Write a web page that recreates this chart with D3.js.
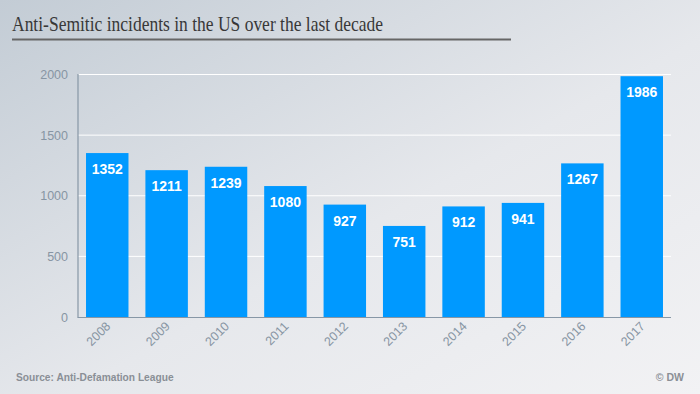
<!DOCTYPE html>
<html><head><meta charset="utf-8">
<script src="https://cdn.jsdelivr.net/npm/d3@7"></script>
<style>body{margin:0;overflow:hidden}svg{display:block}</style>
</head><body>
<script>
const years = ["2008","2009","2010","2011","2012","2013","2014","2015","2016","2017"];
const incidents = [1352,1211,1239,1080,927,751,912,941,1267,1986];
const yTicks = [0,500,1000,1500,2000];

const W=700,H=394;
const svg=d3.select("body").append("svg").attr("width",W).attr("height",H);
const defs=svg.append("defs");
const g=defs.append("linearGradient").attr("id","bg").attr("x1","0").attr("y1","0").attr("x2","1").attr("y2","1");
g.append("stop").attr("offset","0").attr("stop-color","#c3ccd5");
g.append("stop").attr("offset","0.55").attr("stop-color","#e6e8ec");
g.append("stop").attr("offset","1").attr("stop-color","#f2f2f4");
svg.append("rect").attr("width",W).attr("height",H).attr("fill","url(#bg)");

svg.append("text").attr("x",12).attr("y",30.5).attr("font-family","'Liberation Serif', 'Times New Roman', serif")
 .attr("font-size",22).attr("fill","#383838").attr("textLength",371).attr("lengthAdjust","spacingAndGlyphs")
 .text("Anti-Semitic incidents in the US over the last decade");
svg.append("line").attr("x1",12).attr("x2",511).attr("y1",39.5).attr("y2",39.5).attr("stroke","#666").attr("stroke-width",2);

const x=d3.scaleBand().domain(years).range([78,671]).paddingInner(0.285).paddingOuter(0.135);
const y=d3.scaleLinear().domain([0,2000]).range([317,74.5]);

svg.append("g").selectAll("line").data(yTicks.filter(d=>d>0)).join("line")
 .attr("x1",78).attr("x2",671).attr("y1",d=>y(d)).attr("y2",d=>y(d)).attr("stroke","#fff").attr("stroke-width",1);

svg.append("g").selectAll("rect").data(incidents).join("rect")
 .attr("x",(d,i)=>x(years[i])).attr("width",x.bandwidth()).attr("y",d=>y(d)).attr("height",d=>y(0)-y(d)).attr("fill","#0099ff");

svg.append("g").selectAll("text").data(incidents).join("text")
 .attr("x",(d,i)=>x(years[i])+x.bandwidth()/2).attr("y",d=>y(d)+21).attr("text-anchor","middle")
 .attr("font-family","'Liberation Sans', Arial, sans-serif").attr("font-weight","bold").attr("font-size",14).attr("fill","#fff").text(d=>d);

svg.append("line").attr("x1",78).attr("x2",78).attr("y1",74).attr("y2",317.5).attr("stroke","#8797a6").attr("stroke-width",1.2);
svg.append("line").attr("x1",77.5).attr("x2",671).attr("y1",317.5).attr("y2",317.5).attr("stroke","#8797a6").attr("stroke-width",1.2);

const ya=svg.append("g").attr("transform","translate(78,0)").call(d3.axisLeft(y).tickValues(yTicks).tickSize(0).tickPadding(10).tickFormat(d3.format("d")));
ya.select(".domain").remove();
ya.selectAll("text").attr("font-family","'Liberation Sans', Arial, sans-serif").attr("font-size",12.5).attr("fill","#8795a3");

const xa=svg.append("g").attr("transform","translate(0,317)").call(d3.axisBottom(x).tickSize(0).tickPadding(0));
xa.select(".domain").remove();
xa.selectAll("text").attr("font-family","'Liberation Sans', Arial, sans-serif").attr("font-size",12.5).attr("fill","#8795a3")
 .attr("text-anchor","end").attr("dy",0).attr("transform","translate(4,10) rotate(-45)");

svg.append("text").attr("x",16).attr("y",380.5).attr("font-family","'Liberation Sans', Arial, sans-serif").attr("font-weight","bold")
 .attr("font-size",10.2).attr("fill","#8a8f96").text("Source: Anti-Defamation League");
svg.append("text").attr("x",684).attr("y",380.5).attr("text-anchor","end").attr("font-family","'Liberation Sans', Arial, sans-serif").attr("font-weight","bold")
 .attr("font-size",10.5).attr("fill","#8a8f96").text("© DW");
</script>
</body></html>
